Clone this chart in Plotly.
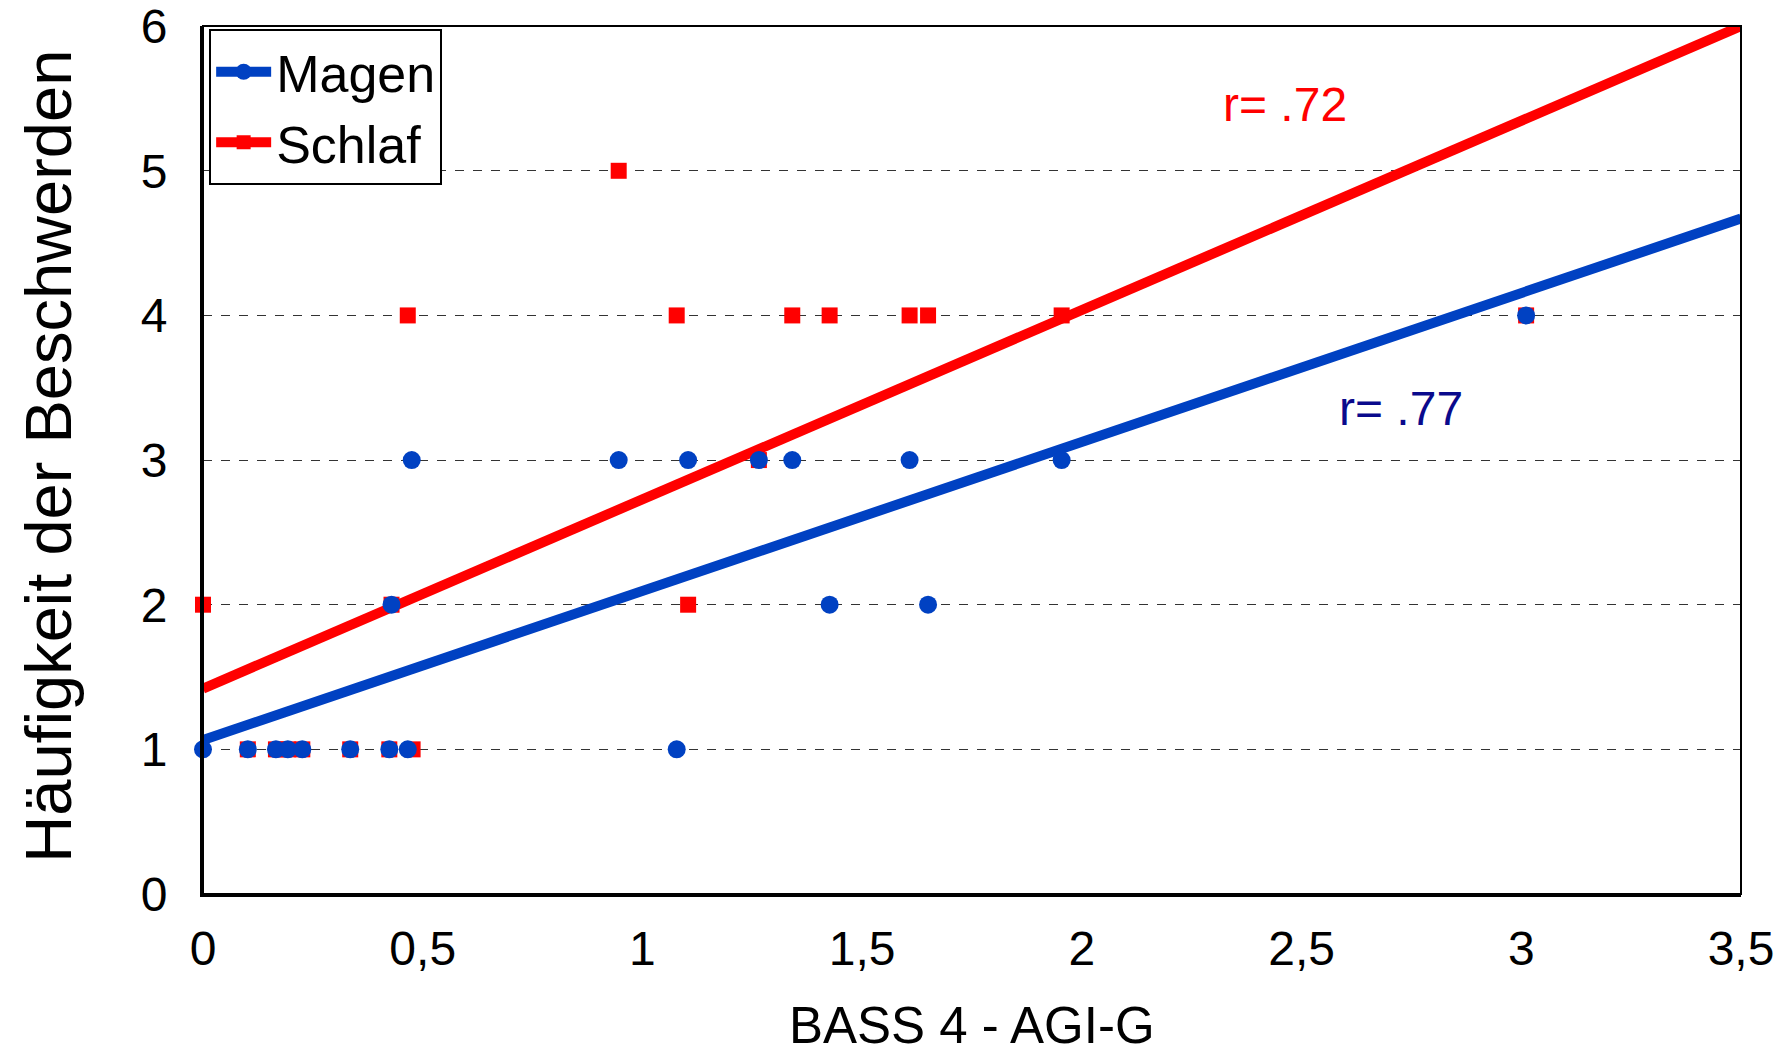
import plotly.graph_objects as go

# ---- data ----
magen_x = [0.0, 0.102, 0.166, 0.193, 0.226, 0.335, 0.424, 0.466, 1.078,
           0.429, 1.426, 1.650,
           0.475, 0.946, 1.104, 1.265, 1.341, 1.608, 1.954,
           3.011]
magen_y = [1, 1, 1, 1, 1, 1, 1, 1, 1,
           2, 2, 2,
           3, 3, 3, 3, 3, 3, 3,
           4]

schlaf_x = [0.102, 0.166, 0.193, 0.226, 0.335, 0.424, 0.477,
            0.0, 0.429, 1.104,
            1.265,
            0.466, 1.078, 1.341, 1.426, 1.608, 1.650, 1.954, 3.011,
            0.946]
schlaf_y = [1, 1, 1, 1, 1, 1, 1,
            2, 2, 2,
            3,
            4, 4, 4, 4, 4, 4, 4, 4,
            5]

fit_x = [0.0, 3.5]
magen_fit_y = [1.065, 4.67]
schlaf_fit_y = [1.42, 6.0]

r_labels = ["r= .72", "r= .77"]
r_pos_x = [2.462, 2.727]
r_pos_y = [5.46, 3.355]

x_ticks = [0, 0.5, 1, 1.5, 2, 2.5, 3, 3.5]
y_ticks = [0, 1, 2, 3, 4, 5, 6]

BLUE = "#0041C2"
RED = "#FF0000"
NAVY = "#0A0A8C"
FONT = "Liberation Sans, Arial, sans-serif"

fig = go.Figure()

# regression lines
fig.add_trace(go.Scatter(x=fit_x, y=schlaf_fit_y, mode="lines",
                         line=dict(color=RED, width=10), showlegend=False,
                         cliponaxis=False, hoverinfo="skip"))
fig.add_trace(go.Scatter(x=fit_x, y=magen_fit_y, mode="lines",
                         line=dict(color=BLUE, width=10), showlegend=False,
                         cliponaxis=False, hoverinfo="skip"))
# scatter points
fig.add_trace(go.Scatter(x=schlaf_x, y=schlaf_y, mode="markers",
                         marker=dict(color=RED, symbol="square", size=16),
                         showlegend=False, cliponaxis=False))
fig.add_trace(go.Scatter(x=magen_x, y=magen_y, mode="markers",
                         marker=dict(color=BLUE, symbol="circle", size=18),
                         showlegend=False, cliponaxis=False))
# legend entries
fig.add_trace(go.Scatter(x=[None], y=[None], mode="lines+markers", name="Magen",
                         line=dict(color=BLUE, width=10),
                         marker=dict(color=BLUE, symbol="circle", size=16)))
fig.add_trace(go.Scatter(x=[None], y=[None], mode="lines+markers", name="Schlaf",
                         line=dict(color=RED, width=10),
                         marker=dict(color=RED, symbol="square", size=14)))

annotations = []
for txt, ax, ay, col in zip(r_labels, r_pos_x, r_pos_y, [RED, NAVY]):
    annotations.append(dict(x=ax, y=ay, xref="x", yref="y", text=txt,
                            showarrow=False, xanchor="center", yanchor="middle",
                            font=dict(family=FONT, size=48, color=col)))
annotations.append(dict(x=0.5, y=-0.152, xref="paper", yref="paper",
                        text="BASS 4 - AGI-G", showarrow=False,
                        xanchor="center", yanchor="middle",
                        font=dict(family=FONT, size=51, color="black")))
annotations.append(dict(x=-0.101, y=0.5046, xref="paper", yref="paper",
                        text="Häufigkeit der Beschwerden", showarrow=False,
                        textangle=-90, xanchor="center", yanchor="middle",
                        font=dict(family=FONT, size=65, color="black")))

fig.update_layout(
    width=1781, height=1045,
    margin=dict(l=195, r=48, t=18, b=159, autoexpand=False),
    paper_bgcolor="white", plot_bgcolor="white",
    separators=",.",
    font=dict(family=FONT, color="black"),
    annotations=annotations,
    legend=dict(x=0.004, y=0.996, xanchor="left", yanchor="top",
                bgcolor="white", bordercolor="black", borderwidth=2,
                font=dict(family=FONT, size=52, color="black"),
                itemwidth=55, tracegroupgap=0),
    shapes=[dict(type="rect", xref="paper", yref="paper", x0=0, y0=0, x1=1, y1=1,
                 line=dict(color="black", width=2), layer="above")],
)

fig.update_xaxes(range=[0, 3.5], tickvals=x_ticks, showgrid=False, zeroline=False,
                 showline=True, linecolor="black", linewidth=3, automargin=False,
                 ticks="", ticklabelstandoff=10, ticklabeloverflow="allow",
                 tickfont=dict(family=FONT, size=48, color="black"))
fig.update_yaxes(range=[0, 6.001], tickvals=y_ticks, showgrid=True,
                 gridcolor="#333333", gridwidth=1, griddash="dash",
                 zeroline=False, showline=True, linecolor="black", linewidth=3,
                 automargin=False,
                 ticks="", ticklabelstandoff=23, ticklabeloverflow="allow",
                 tickfont=dict(family=FONT, size=48, color="black"))

fig.write_html("out.html")
